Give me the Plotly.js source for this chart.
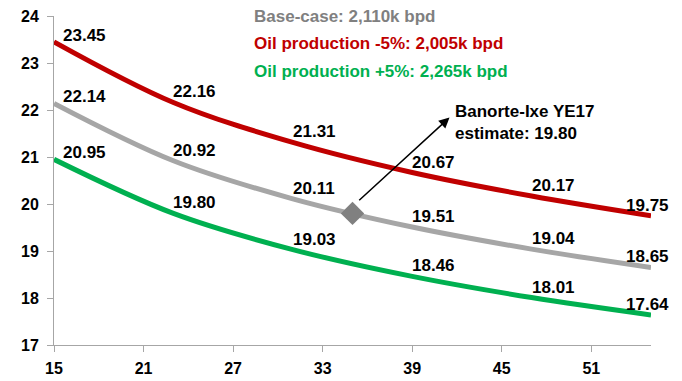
<!DOCTYPE html>
<html>
<head>
<meta charset="utf-8">
<script src="https://cdn.plot.ly/plotly-3.0.1.min.js"></script>
<style>
  html, body { margin: 0; padding: 0; background: #fff; }
  #chart { width: 682px; height: 381px; }
</style>
</head>
<body>
<div id="chart"></div>
<script>
// Oil price scenarios (x) and resulting estimates for each production case
const oilPrice = [15, 23, 31, 39, 47, 55];
const lowProduction = [23.45, 22.16, 21.31, 20.67, 20.17, 19.75];
const baseCase = [22.14, 20.92, 20.11, 19.51, 19.04, 18.65];
const highProduction = [20.95, 19.80, 19.03, 18.46, 18.01, 17.64];

// Year-end estimate point
const estimateX = [35];
const estimateY = [19.80];

// Legend text lines
const seriesNames = [
  'Base-case: 2,110k bpd',
  'Oil production -5%: 2,005k bpd',
  'Oil production +5%: 2,265k bpd'
];
const estimateLabel = 'Banorte-Ixe YE17<br>estimate: 19.80';

const xTickStart = 15;
const xTickStep = 6;

const FONT = '"Liberation Sans", Arial, sans-serif';
const RED = '#C00000';
const GRAY = '#A6A6A6';
const GREEN = '#00B050';

const labelFont = { family: FONT, size: 17, color: '#000', weight: 'bold' };

function curve(y, color) {
  return {
    x: oilPrice,
    y: y,
    type: 'scatter',
    mode: 'lines',
    line: { color: color, width: 5, shape: 'spline', smoothing: 1 },
    hoverinfo: 'x+y',
    showlegend: false
  };
}

// Value labels sit just above each point; the first one is nudged off the
// y axis and the last one is centred on the end of the curve.
function valueLabels(y) {
  const last = y.length - 1;
  return y.map((v, i) => ({
    xref: 'x', yref: 'y',
    x: oilPrice[i], y: v,
    text: v.toFixed(2),
    showarrow: false,
    xanchor: i === last ? 'center' : 'left',
    yanchor: 'bottom',
    xshift: i === 0 ? 7 : (i === last ? -4 : -2),
    yshift: i === 0 ? -5 : -1,
    font: labelFont
  }));
}

const traces = [
  curve(lowProduction, RED),
  curve(baseCase, GRAY),
  curve(highProduction, GREEN),
  {
    x: estimateX,
    y: estimateY,
    type: 'scatter',
    mode: 'markers',
    marker: { symbol: 'diamond', size: 18, color: '#808080' },
    cliponaxis: false,
    showlegend: false
  }
];

const legendColors = ['#808080', RED, GREEN];
const legendY = [0.997, 0.917, 0.830];

const annotations = seriesNames.map((name, i) => ({
  xref: 'paper', yref: 'paper',
  x: 0.331, y: legendY[i],
  xanchor: 'left', yanchor: 'middle',
  text: name,
  showarrow: false,
  font: { family: FONT, size: 17, color: legendColors[i], weight: 'bold' }
}));

annotations.push(
  ...valueLabels(lowProduction),
  ...valueLabels(baseCase),
  ...valueLabels(highProduction)
);

// Arrow pointing away from the estimate marker toward its caption
annotations.push({
  xref: 'x', yref: 'y', axref: 'x', ayref: 'y',
  x: 41.5, y: 21.84,
  ax: 35.35, ay: 20.05,
  text: '',
  showarrow: true,
  arrowhead: 2,
  arrowsize: 1.4,
  arrowwidth: 1.5,
  arrowcolor: '#000'
});

annotations.push({
  xref: 'paper', yref: 'paper',
  x: 0.669, y: 0.675,
  xanchor: 'left', yanchor: 'middle',
  align: 'left',
  text: estimateLabel,
  showarrow: false,
  font: { family: FONT, size: 17, color: '#000', weight: 'bold' }
});

const layout = {
  width: 682,
  height: 381,
  margin: { l: 54, r: 31, t: 16, b: 36 },
  paper_bgcolor: '#fff',
  plot_bgcolor: '#fff',
  font: { family: FONT, color: '#000' },
  xaxis: {
    range: [15, 55],
    tick0: xTickStart,
    dtick: xTickStep,
    showgrid: false,
    zeroline: false,
    showline: true,
    linecolor: GRAY,
    linewidth: 1,
    ticks: 'outside',
    ticklen: 6,
    tickcolor: GRAY,
    ticklabelstandoff: 3,
    tickfont: { family: FONT, size: 16, color: '#000', weight: 'bold' },
    fixedrange: true
  },
  yaxis: {
    range: [17, 24],
    dtick: 1,
    showgrid: false,
    zeroline: false,
    showline: true,
    linecolor: GRAY,
    linewidth: 1,
    ticks: 'outside',
    ticklen: 6,
    tickcolor: GRAY,
    ticklabelstandoff: 5,
    tickfont: { family: FONT, size: 16, color: '#000', weight: 'bold' },
    fixedrange: true
  },
  annotations: annotations,
  showlegend: false
};

Plotly.newPlot('chart', traces, layout, { displayModeBar: false, staticPlot: true });
</script>
</body>
</html>
